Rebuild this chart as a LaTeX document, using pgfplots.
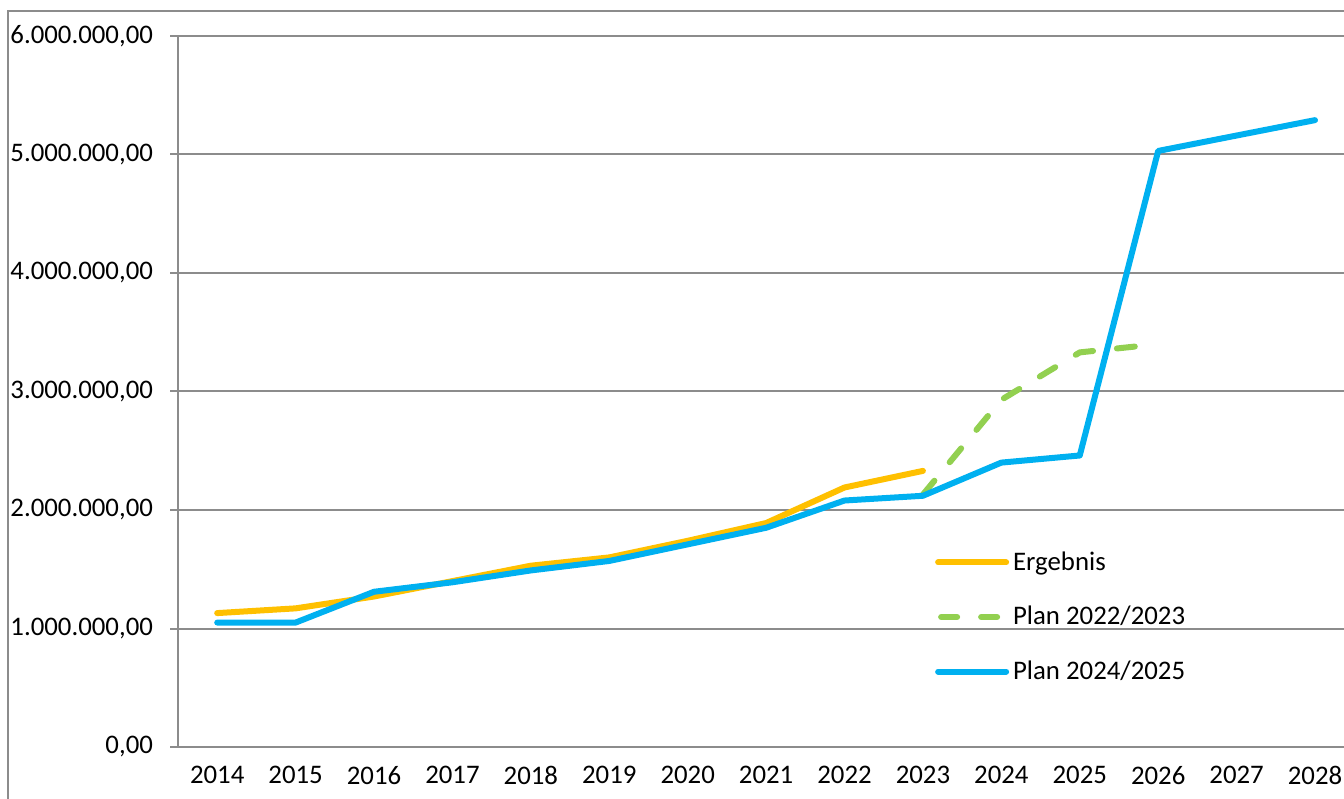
\documentclass[border=0pt]{standalone}
\usepackage{pgfplots}
\pgfplotsset{compat=1.18}
\usepackage{fontspec}
\setmainfont{Carlito}
\definecolor{gridgray}{HTML}{8C8C8C}
\definecolor{cOrange}{HTML}{FFC000}
\definecolor{cGreen}{HTML}{92D050}
\definecolor{cBlue}{HTML}{00B0F0}
\begin{document}
\begin{tikzpicture}
\useasboundingbox (0,0) rectangle (672pt,399pt);
\draw[gridgray, line width=1pt] (4pt,-2pt) -- (4pt,393.5pt) -- (680pt,393.5pt);
\begin{axis}[
  at={(89pt,25.5pt)}, anchor=south west,
  scale only axis, width=583pt, height=355.5pt,
  xmin=-0.5, xmax=14.37, ymin=0, ymax=6000000,
  axis lines=left,
  axis line style={-, draw=gridgray, line width=1pt},
  xtick={0,...,14},
  xticklabels={2014,2015,2016,2017,2018,2019,2020,2021,2022,2023,2024,2025,2026,2027,2028},
  xtick style={draw=none},
  minor xtick={-0.5,0.5,...,13.5},
  minor tick length=4pt,
  major tick length=4pt,
  tick align=outside,
  tick style={gridgray, line width=1pt},
  ytick={0,1000000,2000000,3000000,4000000,5000000,6000000},
  yticklabels={{0,00},{1.000.000,00},{2.000.000,00},{3.000.000,00},{4.000.000,00},{5.000.000,00},{6.000.000,00}},
  scaled y ticks=false,
  ymajorgrids,
  major grid style={gridgray, line width=1pt},
  tick label style={font=\fontsize{13.4}{16}\selectfont, text=black},
  xticklabel style={yshift=-2pt},
  yticklabel style={xshift=-5pt},
  legend style={draw=none, fill=none, at={(0.649,0.1828)}, anchor=west,
    inner sep=0pt, row sep=12.5pt, font=\fontsize{13.4}{16}\selectfont},
  legend cell align=left,
  clip=false,
]
\addplot[cOrange, line width=3pt, line cap=round, line join=round,
  legend image code/.code={\draw[cOrange, line width=3pt, line cap=round] (0pt,0pt) -- (34pt,0pt);}]
  coordinates {(0,1130000)(1,1170000)(2,1270000)(3,1400000)(4,1530000)(5,1600000)(6,1740000)(7,1890000)(8,2190000)(9,2330000)};
\addlegendentry{Ergebnis}
\addplot[cGreen, line width=3pt, line cap=round, line join=round, dash pattern=on 9pt off 12pt,
  legend image code/.code={\draw[cGreen, line width=3pt, line cap=round, dash pattern=on 8pt off 12pt] (1.5pt,0pt) -- (34pt,0pt);}]
  coordinates {(9,2130000)(10,2930000)(11,3330000)(12,3400000)};
\addlegendentry{Plan 2022/2023}
\addplot[cBlue, line width=3pt, line cap=round, line join=round,
  legend image code/.code={\draw[cBlue, line width=3pt, line cap=round] (0pt,0pt) -- (34pt,0pt);}]
  coordinates {(0,1050000)(1,1050000)(2,1310000)(3,1390000)(4,1490000)(5,1570000)(6,1710000)(7,1850000)(8,2080000)(9,2120000)(10,2400000)(11,2460000)(12,5030000)(13,5160000)(14,5290000)};
\addlegendentry{Plan 2024/2025}
\end{axis}
\end{tikzpicture}
\end{document}
